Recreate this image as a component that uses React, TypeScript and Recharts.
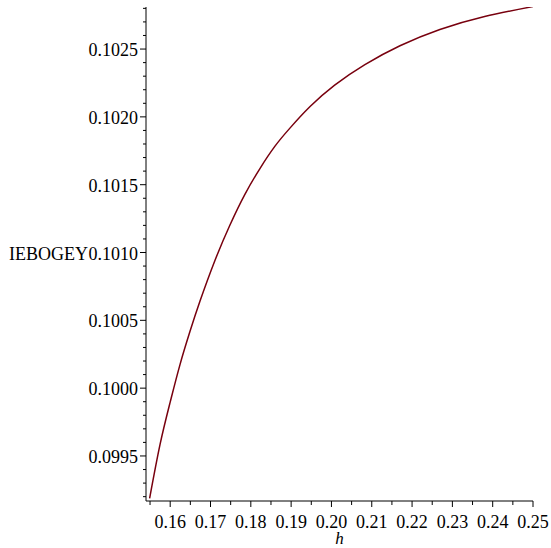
import React from 'react'
import { LineChart, Line, XAxis, YAxis, Label } from 'recharts'

// values
const hValues = [
  0.1549, 0.1575, 0.1600, 0.1624, 0.1649, 0.1674, 0.1711, 0.1748, 0.1785, 0.1823,
  0.1860, 0.1897, 0.1947, 0.2008, 0.2083, 0.2170, 0.2269, 0.2380, 0.25,
]
const iebogeyValues = [
  0.099188, 0.099587, 0.099897, 0.100170, 0.100417, 0.100642, 0.100941, 0.101201, 0.101427, 0.101621,
  0.101784, 0.101917, 0.102076, 0.102234, 0.102385, 0.102524, 0.102644, 0.102740, 0.102813,
]

const xMajorTicks = [0.16, 0.17, 0.18, 0.19, 0.2, 0.21, 0.22, 0.23, 0.24, 0.25]
const xMinorTicks = [0.155, 0.165, 0.175, 0.185, 0.195, 0.205, 0.215, 0.225, 0.235, 0.245]
const xTickLabels = ['0.16', '0.17', '0.18', '0.19', '0.20', '0.21', '0.22', '0.23', '0.24', '0.25']

const yMajorTicks = [0.0995, 0.1, 0.1005, 0.101, 0.1015, 0.102, 0.1025]
const yMinorTicks = [
  0.0992, 0.0993, 0.0994, 0.0996, 0.0997, 0.0998, 0.0999,
  0.1001, 0.1002, 0.1003, 0.1004, 0.1006, 0.1007, 0.1008, 0.1009,
  0.1011, 0.1012, 0.1013, 0.1014, 0.1016, 0.1017, 0.1018, 0.1019,
  0.1021, 0.1022, 0.1023, 0.1024, 0.1026, 0.1027, 0.1028,
]
const yTickLabels = ['0.0995', '0.1000', '0.1005', '0.1010', '0.1015', '0.1020', '0.1025']

const data = hValues.map((h, i) => ({ h, v: iebogeyValues[i] }))

const FONT = '"Liberation Serif", "Times New Roman", serif'

const majorIndex = (list: number[], v: number) => list.findIndex(t => Math.abs(t - v) < 1e-9)

const XTick = (props: any) => {
  const { x, y, payload } = props
  const i = majorIndex(xMajorTicks, payload.value)
  return (
    <g>
      <line x1={x} y1={y} x2={x} y2={y + (i >= 0 ? 6 : 4)} stroke="#000" strokeWidth={1} />
      {i >= 0 && (
        <text x={x} y={y + 27} textAnchor="middle" fontFamily={FONT} fontSize={18} fill="#000">
          {xTickLabels[i]}
        </text>
      )}
    </g>
  )
}

const YTick = (props: any) => {
  const { x, y, payload } = props
  const i = majorIndex(yMajorTicks, payload.value)
  return (
    <g>
      <line x1={x - (i >= 0 ? 6 : 3)} y1={y} x2={x} y2={y} stroke="#000" strokeWidth={1} />
      {i >= 0 && (
        <text x={x - 8} y={y + 7} textAnchor="end" fontFamily={FONT} fontSize={18} fill="#000">
          {yTickLabels[i]}
        </text>
      )}
    </g>
  )
}

export default function App() {
  return (
    <div style={{ position: 'absolute', left: 0, top: 0, background: '#fff' }}>
      <LineChart width={551} height={548} data={data} margin={{ top: 7, right: 18, bottom: 0, left: 0 }}>
        <XAxis
          dataKey="h"
          type="number"
          domain={[0.154, 0.25]}
          allowDataOverflow
          ticks={[...xMinorTicks, ...xMajorTicks].sort((a, b) => a - b)}
          interval={0}
          tick={<XTick />}
          tickLine={false}
          tickSize={0}
          tickMargin={0}
          height={47}
          axisLine={{ stroke: '#000', strokeWidth: 1 }}
        >
          <Label
            content={(p: any) => {
              const vb = p.viewBox
              return (
                <text x={vb.x + vb.width / 2} y={vb.y + 43} textAnchor="middle" fontFamily={FONT}
                  fontStyle="italic" fontSize={17} fill="#000">h</text>
              )
            }}
          />
        </XAxis>
        <YAxis
          type="number"
          domain={[0.099168, 0.10281]}
          allowDataOverflow
          ticks={[...yMinorTicks, ...yMajorTicks].sort((a, b) => a - b)}
          interval={0}
          tick={<YTick />}
          tickLine={false}
          tickSize={0}
          tickMargin={0}
          width={146}
          axisLine={{ stroke: '#000', strokeWidth: 1 }}
        >
          <Label
            content={(p: any) => {
              const vb = p.viewBox
              return (
                <text x={9} y={vb.y + vb.height / 2 + 6} textAnchor="start" fontFamily={FONT}
                  fontSize={18} fill="#000">IEBOGEY</text>
              )
            }}
          />
        </YAxis>
        <Line
          type="natural"
          dataKey="v"
          stroke="#78000E"
          strokeWidth={1.5}
          dot={false}
          isAnimationActive={false}
        />
      </LineChart>
    </div>
  )
}
